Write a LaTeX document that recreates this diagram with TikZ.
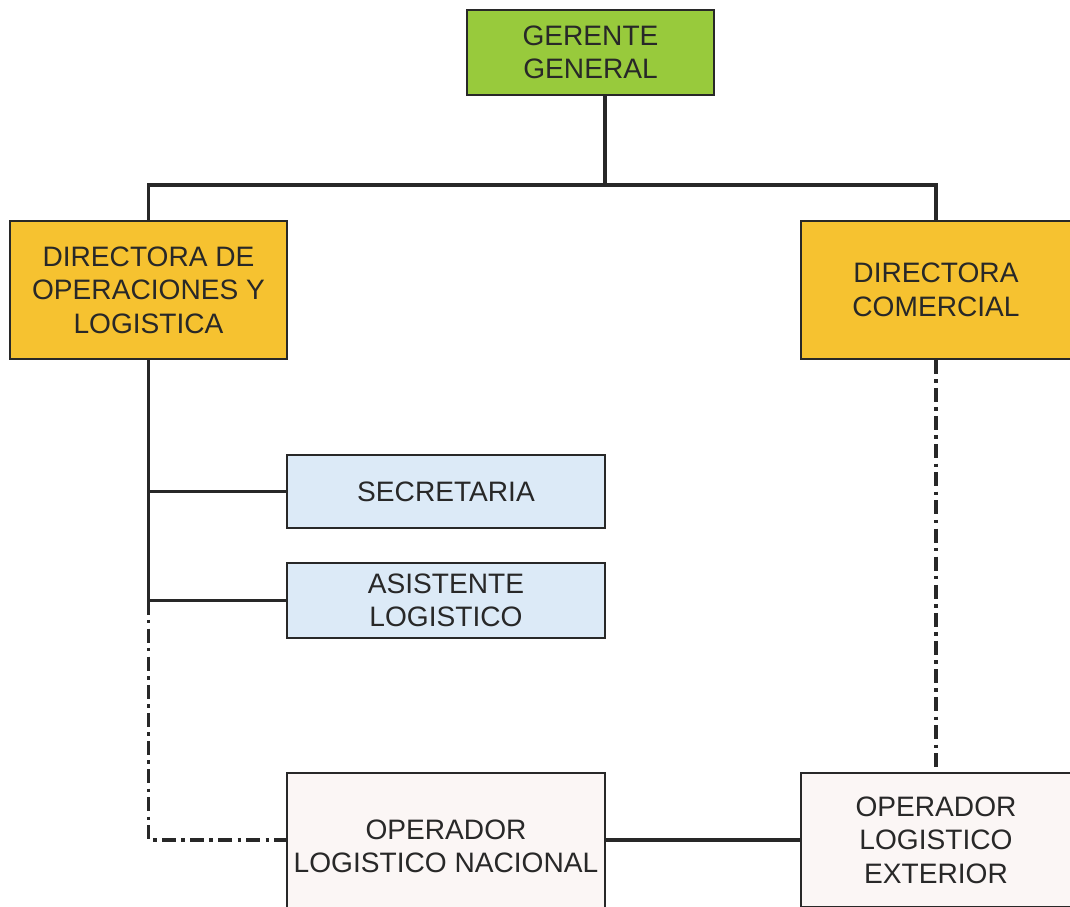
\documentclass[tikz,border=0pt]{standalone}
\usepackage{fontspec}
\setmainfont{Liberation Sans}
\definecolor{gerente}{RGB}{152, 202, 60}
\definecolor{directora}{RGB}{246, 194, 48}
\definecolor{apoyo}{RGB}{220, 234, 247}
\definecolor{operador}{RGB}{251, 246, 245}
\definecolor{linea}{RGB}{40, 40, 40}
\usepackage{tikz}

\begin{document}
\begin{tikzpicture}[x=0.02cm, y=-0.02cm,
        every node/.style={draw=linea, line width=1pt, align=center, text=linea, font=\fontsize{16}{19}\selectfont},
        conn/.style={draw=linea, line width=1.8pt},
        dashdot/.style={conn, dash pattern=on 8pt off 3pt on 2pt off 3pt}
      ]
        \useasboundingbox (0,0) rectangle (1070,906);
        \clip (0,0) rectangle (1070,906);
        % boxes
        \node[fill=gerente, minimum width=4.94cm, minimum height=1.7cm] (gerente) at (590.5,52.5) {GERENTE\\GENERAL};
        \node[fill=directora, minimum width=5.54cm, minimum height=2.76cm] (dirop) at (148.5,290) {DIRECTORA DE\\OPERACIONES Y\\LOGISTICA};
        \node[fill=directora, minimum width=5.4cm, minimum height=2.76cm] (dircom) at (936,290) {DIRECTORA\\COMERCIAL};
        \node[fill=apoyo, minimum width=6.36cm, minimum height=1.46cm] (secretaria) at (446,491.5) {SECRETARIA};
        \node[fill=apoyo, minimum width=6.36cm, minimum height=1.5cm] (asistente) at (446,600.5) {ASISTENTE\\LOGISTICO};
        \node[fill=operador, minimum width=6.36cm, minimum height=2.92cm] (opnac) at (446,846) {OPERADOR\\LOGISTICO NACIONAL};
        \node[fill=operador, minimum width=5.4cm, minimum height=2.68cm] (opext) at (936,840) {OPERADOR\\LOGISTICO\\EXTERIOR};
        % lines
        \coordinate (bus) at (605,185);
        \draw[conn] (gerente.south -| bus) -- (bus);
        \draw[conn] (dirop.north) -- (dirop.north |- bus) -- (dircom.north |- bus) -- (dircom.north);
        \draw[conn] (dirop.south) -- (dirop.south |- asistente.west) -- (asistente.west);
        \draw[conn] (dirop.south |- secretaria.west) -- (secretaria.west);
        \draw[dashdot] (dirop.south |- asistente.west) |- (opnac.west |- opext.west);
        \draw[dashdot] (dircom.south) -- (opext.north);
        \draw[conn] (opnac.east |- opext.west) -- (opext.west);
      \end{tikzpicture}
\end{document}
